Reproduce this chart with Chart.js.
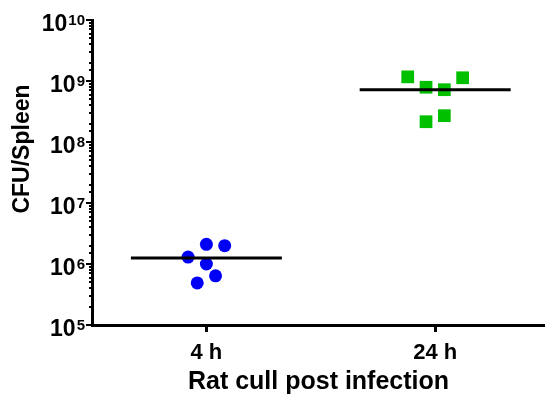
<!DOCTYPE html>
<html>
<head>
<meta charset="utf-8">
<script src="https://cdn.jsdelivr.net/npm/chart.js@4"></script>
<style>
  html, body { margin: 0; padding: 0; background: #fff; }
</style>
</head>
<body>
<canvas id="chart" width="545" height="398"></canvas>
<script>
// values
const categories = ['4 h', '24 h'];
const fourHourCfu = [2.1e6, 2.0e6, 1.3e6, 1.0e6, 6.4e5, 4.9e5];
const fourHourJitter = [0, 0.08, -0.08, 0, 0.04, -0.04];
const dayCfu = [1.17e9, 1.13e9, 7.9e8, 7.2e8, 2.7e8, 2.15e8];
const dayJitter = [-0.12, 0.12, -0.04, 0.04, 0.04, -0.04];
const medians = [1.25e6, 7.2e8];
const decades = [5, 6, 7, 8, 9, 10];

const FONT = "'Liberation Sans', Arial, sans-serif";
const HALF = 0.33; // half width of median bar

const groupPoints = (vals, jit, pos) => vals.map((v, i) => ({ x: pos + jit[i], y: v }));
const medianLines = medians.map((m, i) => [
    { x: i + 1 - HALF, y: m },
    { x: i + 1 + HALF, y: m }
]);

const yAxisDecor = {
    id: 'yAxisDecor',
    afterDraw(chart) {
        const ctx = chart.ctx;
        const y = chart.scales.y;
        const left = chart.chartArea.left;
        ctx.save();
        ctx.strokeStyle = '#000';
        ctx.lineWidth = 2;
        y.ticks.forEach(t => {
            const py = Math.round(y.getPixelForValue(t.value));
            const lg = Math.log10(t.value);
            const major = Math.abs(lg - Math.round(lg)) < 1e-9;
            ctx.beginPath();
            ctx.moveTo(left, py);
            ctx.lineTo(left - (major ? 6 : 3), py);
            ctx.stroke();
        });
        ctx.fillStyle = '#000';
        ctx.textAlign = 'right';
        ctx.textBaseline = 'alphabetic';
        decades.forEach(d => {
            const py = y.getPixelForValue(Math.pow(10, d));
            ctx.font = 'bold 15px ' + FONT;
            const ew = ctx.measureText(String(d)).width;
            ctx.fillText(String(d), 85, py + 5);
            ctx.font = 'bold 23px ' + FONT;
            ctx.fillText('10', 85 - ew - 1, py + 11);
        });
        // axis title
        ctx.translate(23, 149);
        ctx.rotate(-Math.PI / 2);
        ctx.textAlign = 'center';
        ctx.textBaseline = 'middle';
        ctx.font = 'bold 23px ' + FONT;
        ctx.fillText('CFU/Spleen', 0, 0);
        ctx.restore();
    }
};

new Chart(document.getElementById('chart').getContext('2d'), {
    type: 'scatter',
    data: {
        datasets: [
            {
                label: 'median 4 h',
                data: medianLines[0],
                showLine: true,
                borderColor: '#000',
                borderWidth: 3,
                pointRadius: 0
            },
            {
                label: 'median 24 h',
                data: medianLines[1],
                showLine: true,
                borderColor: '#000',
                borderWidth: 3,
                pointRadius: 0
            },
            {
                label: '4 h',
                data: groupPoints(fourHourCfu, fourHourJitter, 1),
                pointStyle: 'circle',
                pointRadius: 6.5,
                backgroundColor: '#0000f5',
                borderWidth: 0
            },
            {
                label: '24 h',
                data: groupPoints(dayCfu, dayJitter, 2),
                pointStyle: 'rect',
                pointRadius: 9,
                backgroundColor: '#00c000',
                borderWidth: 0
            }
        ]
    },
    options: {
        responsive: false,
        animation: false,
        layout: { autoPadding: false, padding: { top: 20, right: 0, bottom: 0, left: 0 } },
        plugins: {
            legend: { display: false },
            tooltip: { enabled: false }
        },
        scales: {
            x: {
                type: 'linear',
                min: 0.5,
                max: 2.48,
                afterFit: s => { s.height = 73; s.paddingLeft = 0; s.paddingRight = 0; },
                afterBuildTicks: s => { s.ticks = [{ value: 1 }, { value: 2 }]; },
                ticks: {
                    callback: v => categories[v - 1],
                    color: '#000',
                    padding: 8,
                    font: { family: FONT, size: 22, weight: 'bold' }
                },
                grid: {
                    drawOnChartArea: false,
                    drawTicks: true,
                    tickLength: 7,
                    tickWidth: 3,
                    tickColor: '#000'
                },
                border: { display: true, color: '#000', width: 3 },
                title: {
                    display: true,
                    text: 'Rat cull post infection',
                    color: '#000',
                    padding: { top: 0, bottom: 1 },
                    font: { family: FONT, size: 25, weight: 'bold' }
                }
            },
            y: {
                type: 'logarithmic',
                min: 1e5,
                max: 1e10,
                afterFit: s => { s.width = 92; s.paddingTop = 0; s.paddingBottom = 0; },
                ticks: { display: false },
                grid: { display: false },
                border: { display: true, color: '#000', width: 3 }
            }
        }
    },
    plugins: [yAxisDecor]
});
</script>
</body>
</html>
